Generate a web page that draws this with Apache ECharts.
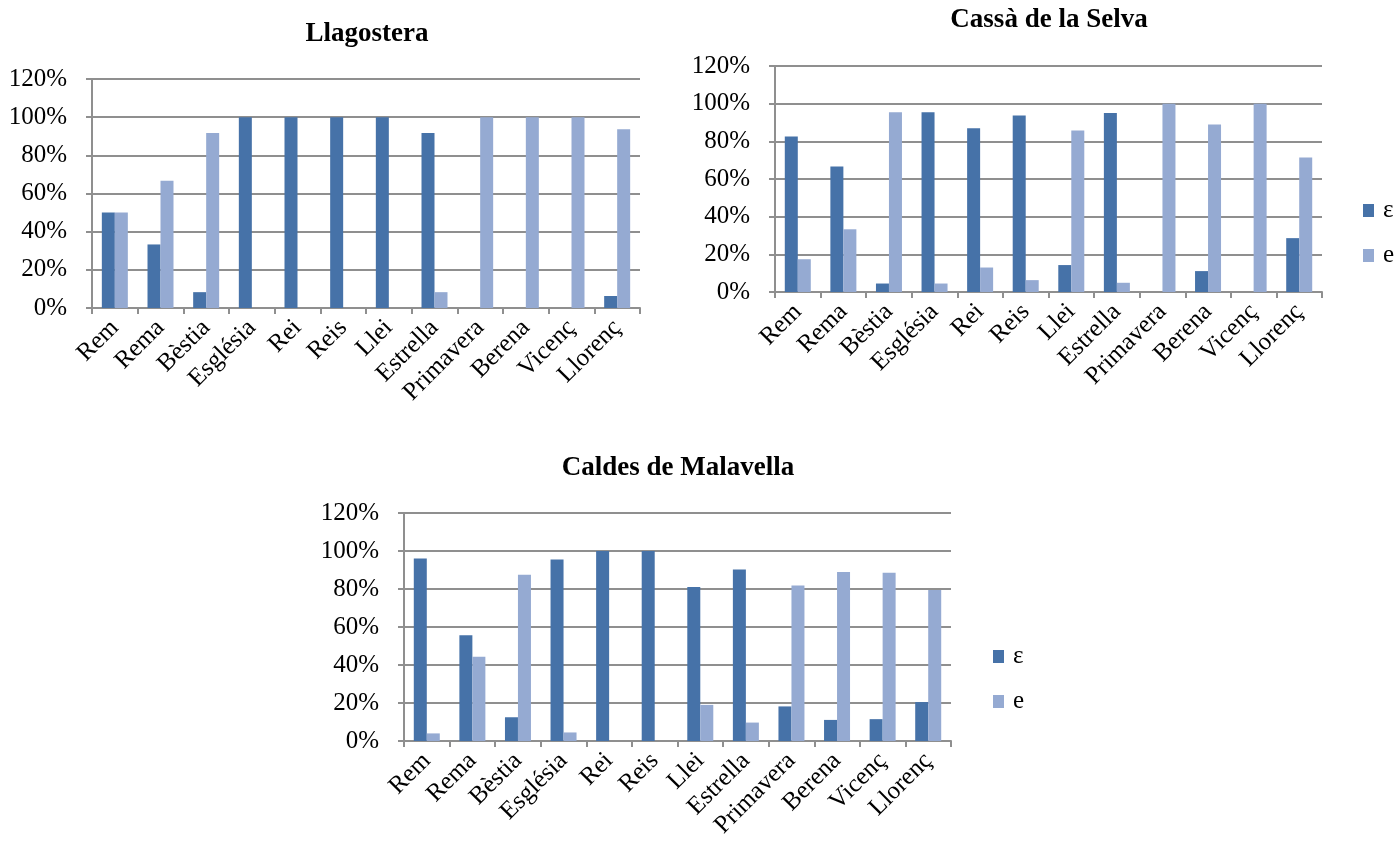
<!DOCTYPE html>
<html>
<head>
<meta charset="utf-8">
<script src="https://cdn.jsdelivr.net/npm/echarts@6/dist/echarts.min.js"></script>
<style>
  html, body { margin: 0; padding: 0; background: #ffffff; }
  #chart { width: 1397px; height: 847px; }
</style>
</head>
<body>
<div id="chart"></div>
<script>
// Words surveyed in each town
const categories = ['Rem', 'Rema', 'Bèstia', 'Església', 'Rei', 'Reis', 'Llei', 'Estrella', 'Primavera', 'Berena', 'Vicenç', 'Llorenç'];
const seriesNames = ['ε', 'e'];
const yTicks = [0, 20, 40, 60, 80, 100, 120];

// Share of open [ε] and closed [e] realisations (%)
const llagosteraOpen   = [50, 33.3, 8.3, 100, 100, 100, 100, 91.7, 0, 0, 0, 6.3];
const llagosteraClosed = [50, 66.7, 91.7, 0, 0, 0, 0, 8.3, 100, 100, 100, 93.7];

const cassaOpen   = [82.6, 66.7, 4.5, 95.5, 87, 93.7, 14.3, 95.1, 0, 11.1, 0, 28.6];
const cassaClosed = [17.4, 33.3, 95.5, 4.5, 13, 6.3, 85.7, 4.9, 100, 88.9, 100, 71.4];

const caldesOpen   = [96, 55.6, 12.5, 95.5, 100, 100, 81, 90.3, 18.2, 11.1, 11.5, 20.5];
const caldesClosed = [4, 44.4, 87.5, 4.5, 0, 0, 19, 9.7, 81.8, 88.9, 88.5, 79.5];

const titles = ['Llagostera', 'Cassà de la Selva', 'Caldes de Malavella'];

const DARK = '#4672A8';
const LIGHT = '#95AAD2';
const GRID_GRAY = '#8f8f8f';
const FONT = '"Liberation Serif", "Times New Roman", serif';

const grids = [
  { left: 92, top: 79, width: 548, height: 229 },
  { left: 775, top: 66, width: 547, height: 226 },
  { left: 404, top: 513, width: 547, height: 228 }
];

const panels = [
  [llagosteraOpen, llagosteraClosed],
  [cassaOpen, cassaClosed],
  [caldesOpen, caldesClosed]
];

function xAxisFor(i) {
  return {
    type: 'category',
    gridIndex: i,
    data: categories,
    axisLine: { lineStyle: { color: GRID_GRAY, width: 2 } },
    axisTick: { show: true, length: 6, alignWithLabel: false, lineStyle: { color: GRID_GRAY, width: 2 } },
    axisLabel: {
      interval: 0, rotate: 45, margin: 16,
      fontFamily: FONT, fontSize: 25, color: '#000'
    },
    splitLine: { show: false }
  };
}

function yAxisFor(i) {
  return {
    type: 'value',
    gridIndex: i,
    min: yTicks[0],
    max: yTicks[yTicks.length - 1],
    interval: yTicks[1] - yTicks[0],
    axisLine: { show: true, lineStyle: { color: GRID_GRAY, width: 2 } },
    axisTick: { show: true, length: 6, lineStyle: { color: GRID_GRAY, width: 2 } },
    axisLabel: {
      margin: 25,
      fontFamily: FONT, fontSize: 25, color: '#000',
      formatter: '{value}%'
    },
    splitLine: { show: true, lineStyle: { color: GRID_GRAY, width: 2 } }
  };
}

const series = [];
panels.forEach((pair, i) => {
  pair.forEach((values, k) => {
    series.push({
      name: seriesNames[k],
      type: 'bar',
      xAxisIndex: i,
      yAxisIndex: i,
      data: values,
      barWidth: 13,
      barGap: '0%',
      itemStyle: { color: k === 0 ? DARK : LIGHT },
      animation: false
    });
  });
});

function legendAt(left, top) {
  return {
    orient: 'vertical',
    left: left, top: top,
    data: seriesNames,
    icon: 'rect',
    itemWidth: 11, itemHeight: 13,
    itemGap: 20,
    selectedMode: false,
    textStyle: { fontFamily: FONT, fontSize: 25, color: '#000', padding: [0, 0, 0, 4] }
  };
}

const titleStyle = { fontFamily: FONT, fontSize: 27, fontWeight: 'bold', color: '#000' };

const option = {
  backgroundColor: '#ffffff',
  animation: false,
  title: [
    { text: titles[0], left: 362, top: 16, textAlign: 'center', textStyle: titleStyle },
    { text: titles[1], left: 1044, top: 2, textAlign: 'center', textStyle: titleStyle },
    { text: titles[2], left: 673, top: 450, textAlign: 'center', textStyle: titleStyle }
  ],
  legend: [legendAt(1358, 193), legendAt(988, 639)],
  grid: grids,
  xAxis: [xAxisFor(0), xAxisFor(1), xAxisFor(2)],
  yAxis: [yAxisFor(0), yAxisFor(1), yAxisFor(2)],
  series: series
};

const chart = echarts.init(document.getElementById('chart'), null, { renderer: 'canvas' });
chart.setOption(option);
</script>
</body>
</html>
